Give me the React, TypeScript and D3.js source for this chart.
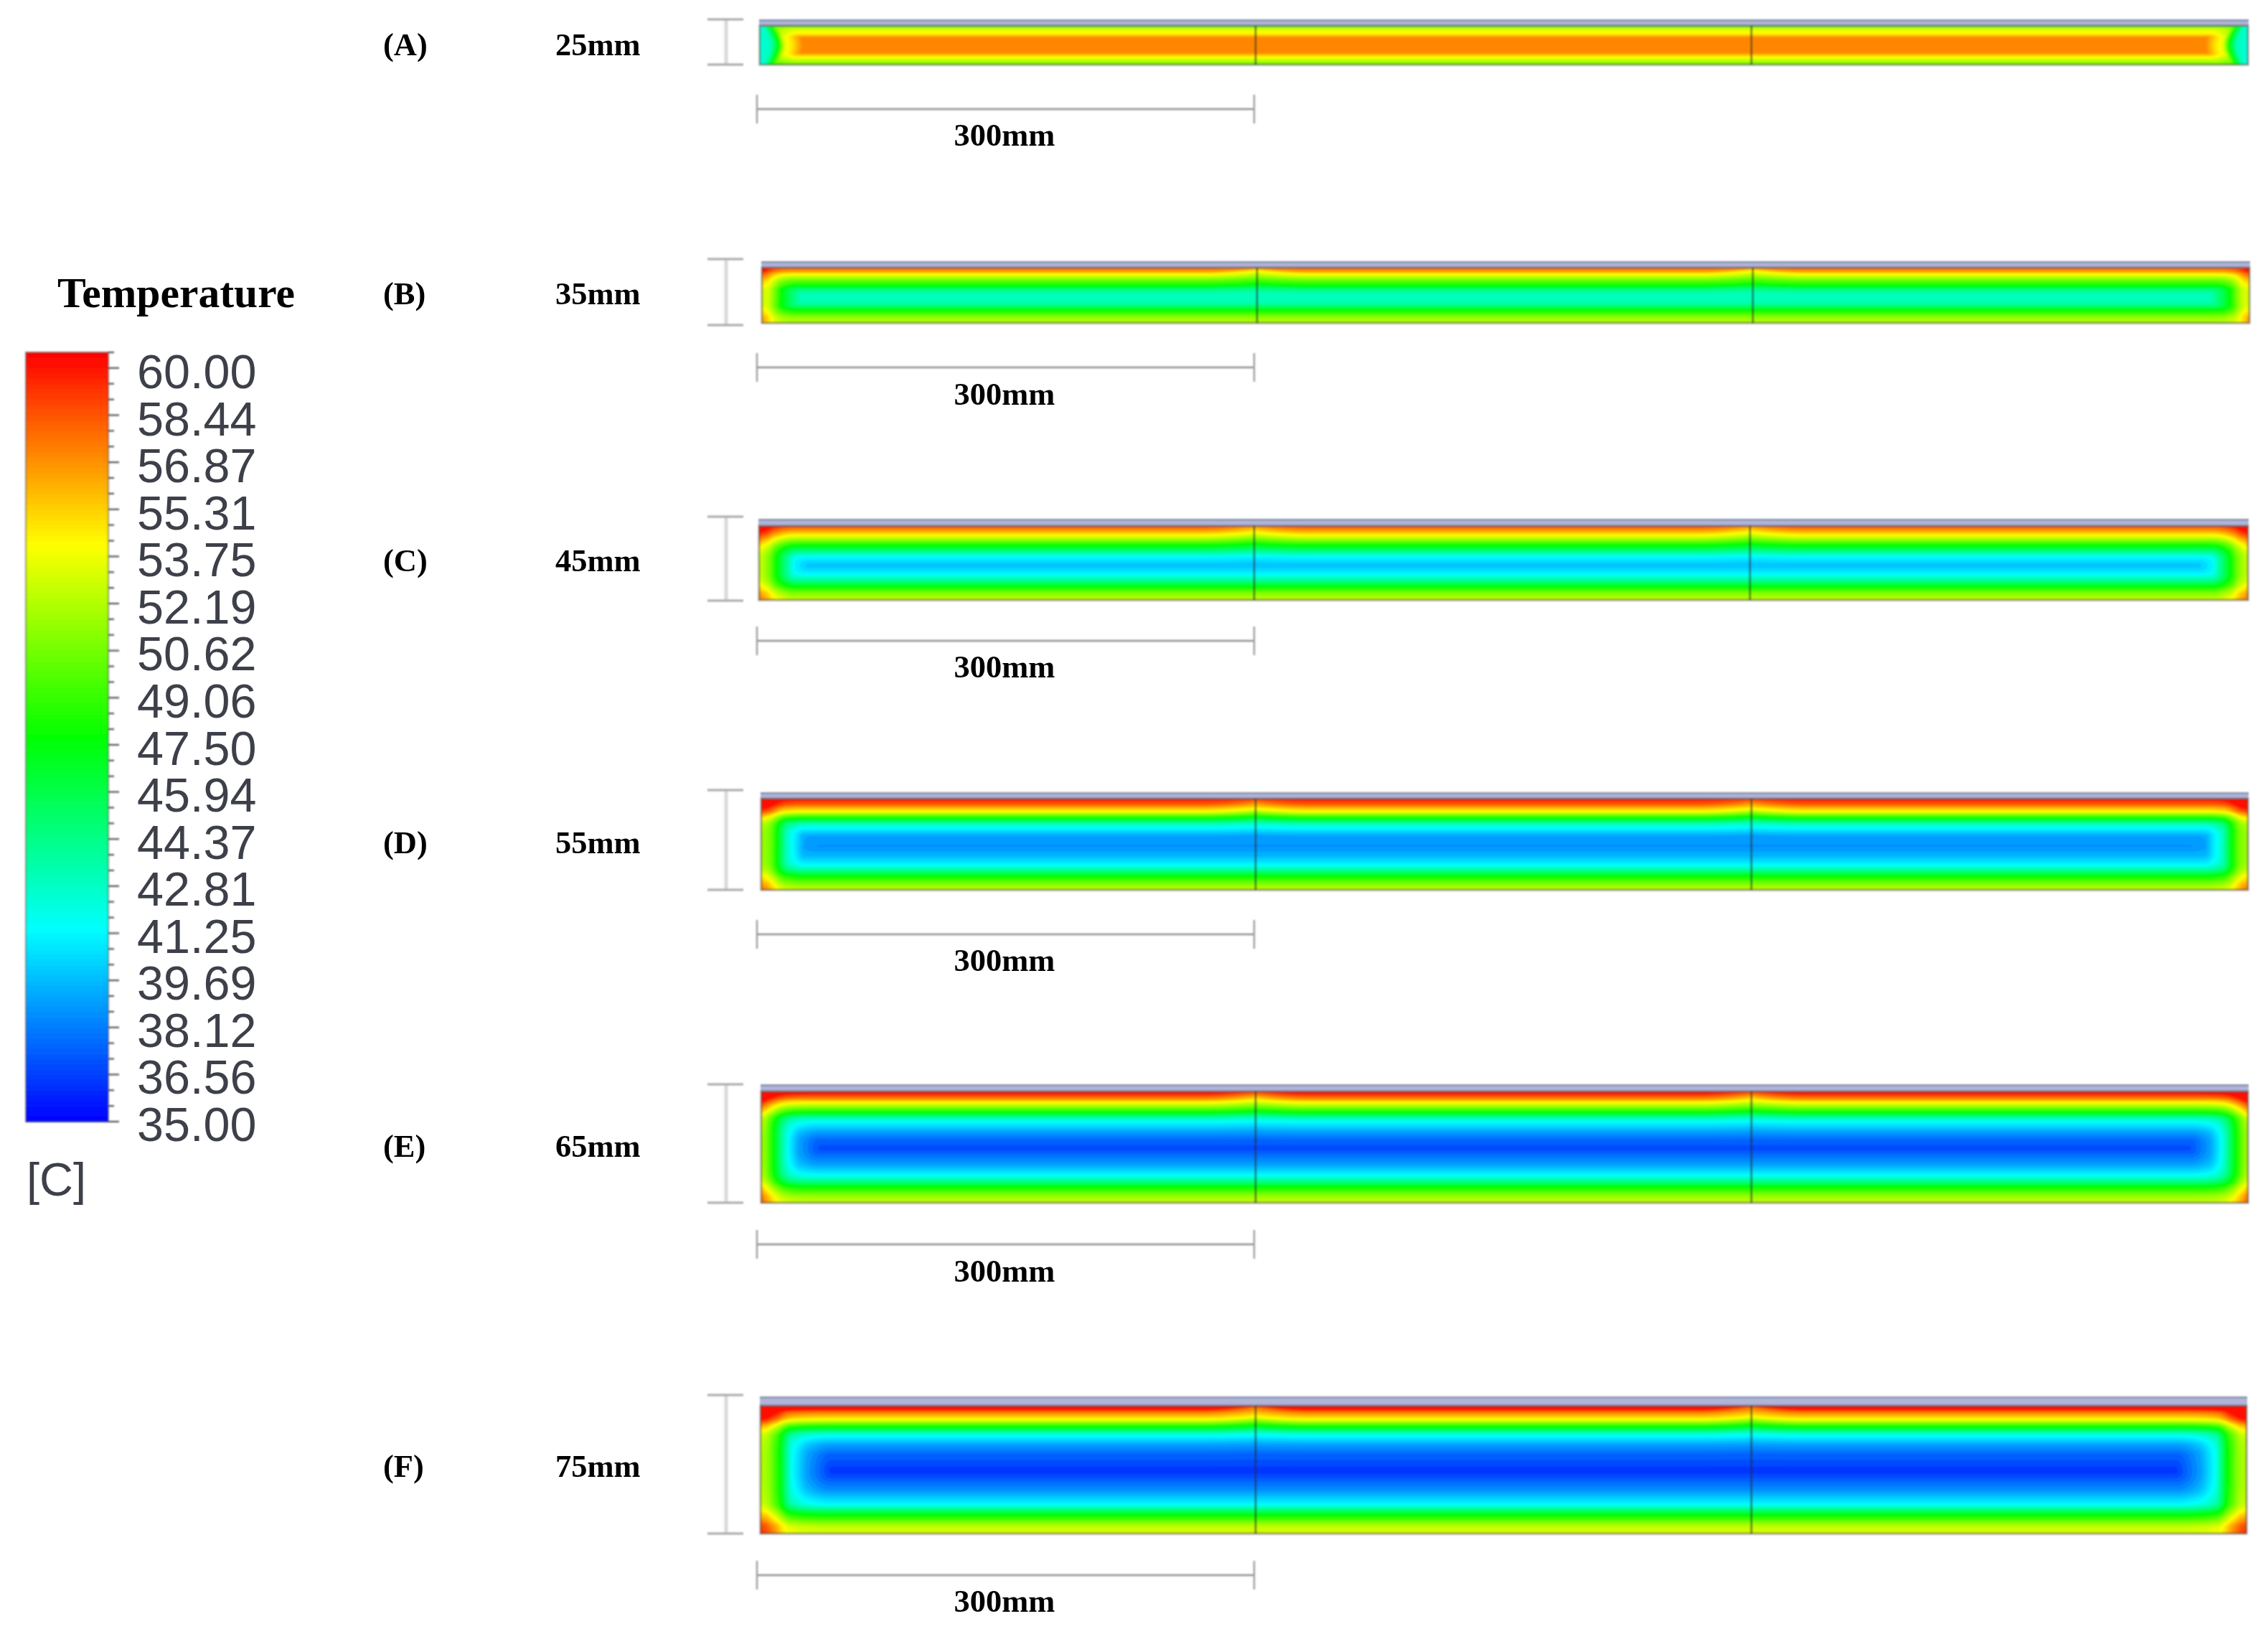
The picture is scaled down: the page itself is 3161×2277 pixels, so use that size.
import React, { useMemo } from "react";
import * as d3 from "d3";

// Colour map and legend values
const rainbowTemps = [35, 41.25, 47.5, 53.75, 60];
const rainbowColors = ["#0000ff", "#00ffff", "#00ff00", "#ffff00", "#ff0000"];
const legendLabels = ["60.00", "58.44", "56.87", "55.31", "53.75", "52.19", "50.62", "49.06", "47.50", "45.94", "44.37", "42.81", "41.25", "39.69", "38.12", "36.56", "35.00"];
const legendBandCount = 49;

const panelNames = ["(A)", "(B)", "(C)", "(D)", "(E)", "(F)"];
const thicknessNames = ["25mm", "35mm", "45mm", "55mm", "65mm", "75mm"];

// Temperature read across each panel: [depth from the wall in px, temperature]
const topA = [[0, 50], [5, 53], [11, 54], [14, 55.5], [16, 56.6]];
const bottomA = [[0, 50], [4, 51.5], [11, 54], [14, 55.5], [16, 56.6]];
const sideA = [[0, 42], [16, 43], [26, 47.5], [34, 53], [46, 54.5], [59, 56.6]];
const coreA = 56.6;

const topB = [[0, 57.2], [5, 56.4], [9, 53.7], [19, 49.5], [25, 47.5], [30, 44.6], [34, 43.6], [38, 43]];
const bottomB = [[0, 52], [8, 51], [18, 47.5], [24, 44.5], [30, 43]];
const sideB = [[0, 53], [10, 52.5], [19, 50], [27, 47.5], [40, 45], [55, 43]];
const coreB = 43;

const topC = [[0, 58], [6, 56.3], [11, 54.5], [17, 52], [27, 47.5], [36, 44], [44, 41], [54, 39.8]];
const bottomC = [[0, 52.5], [10, 50.5], [18, 47.5], [27, 44], [37, 41], [47, 39.8]];
const sideC = [[0, 52.5], [6, 51.8], [16, 50], [24, 47.5], [38, 44], [50, 41], [70, 39.8]];
const coreC = 39.8;

const topD = [[0, 59.5], [7, 58], [12, 56], [18, 53.5], [27, 47.5], [35, 43], [42, 41], [52, 39], [67, 38.5]];
const bottomD = [[0, 52.5], [9, 50.5], [19, 47.5], [27, 44], [36, 41], [47, 39.5], [61, 38.5]];
const sideD = [[0, 51.5], [6, 51], [14, 50], [22, 47.5], [36, 42.5], [46, 41], [59, 39], [80, 38.5]];
const coreD = 38.5;

const topE = [[0, 60], [4, 59], [9, 57], [16, 53.5], [29, 47.5], [37, 43], [44, 41], [56, 39], [69, 37.3], [81, 36.8]];
const bottomE = [[0, 52.5], [10, 51], [22, 47.5], [30, 44], [40, 41], [53, 39], [75, 36.8]];
const sideE = [[0, 51.5], [7, 50.5], [17, 47.5], [31, 43], [39, 41], [52, 39], [82, 36.8]];
const coreE = 36.8;

const topF = [[0, 60], [4, 60], [9, 57], [19, 53.7], [29, 47.5], [41, 41.5], [54, 39], [67, 37.5], [91, 36.2]];
const bottomF = [[0, 53], [11, 52], [27, 47], [41, 41.2], [61, 38.5], [87, 36.2]];
const sideF = [[0, 52], [12, 51], [27, 47.5], [43, 41.5], [63, 39], [100, 36.2]];
const coreF = 36.2;

const field = (name: string, top: number[][], bottom: number[][], side: number[][], core: number, sign: number, ribLift: number, bulge: number) =>
  ({ name, top, bottom, side, core, sign, ribLift, bulge });
const fields = [
  field("A", topA, bottomA, sideA, coreA, -1, 0, 14),
  field("B", topB, bottomB, sideB, coreB, 1, 5, 9),
  field("C", topC, bottomC, sideC, coreC, 1, 6, 6),
  field("D", topD, bottomD, sideD, coreD, 1, 6, 6),
  field("E", topE, bottomE, sideE, coreE, 1, 6, 6),
  field("F", topF, bottomF, sideF, coreF, 1, 7, 6),
];

// Layout in page pixels
const layouts = [
  { x0: 1059, x1: 3133, strip: 27, top: 36, bottom: 90, ribs: [1750, 2441], label: 77, scaleY: 152, scaleText: 203, capTop: 27, capBottom: 90 },
  { x0: 1062, x1: 3135, strip: 364, top: 373, bottom: 450, ribs: [1752, 2443], label: 424, scaleY: 512, scaleText: 564, capTop: 361, capBottom: 453 },
  { x0: 1058, x1: 3133, strip: 723, top: 733, bottom: 836, ribs: [1748, 2439], label: 796, scaleY: 893, scaleText: 944, capTop: 720, capBottom: 837 },
  { x0: 1061, x1: 3133, strip: 1104, top: 1113, bottom: 1240, ribs: [1750, 2441], label: 1189, scaleY: 1302, scaleText: 1353, capTop: 1101, capBottom: 1240 },
  { x0: 1061, x1: 3133, strip: 1511, top: 1521, bottom: 1676, ribs: [1750, 2441], label: 1612, scaleY: 1734, scaleText: 1786, capTop: 1511, capBottom: 1676 },
  { x0: 1060, x1: 3131, strip: 1946, top: 1959, bottom: 2137, ribs: [1750, 2441], label: 2058, scaleY: 2195, scaleText: 2246, capTop: 1944, capBottom: 2137 },
];

const colorOf = d3.scaleLinear<string>().domain(rainbowTemps).range(rainbowColors).interpolate(d3.interpolateRgb).clamp(true);
const levelStep = 25 / legendBandCount;
const levels = d3.range(1, legendBandCount).map((i) => 35 + i * levelStep);
const profile = (pairs: number[][]) =>
  d3.scaleLinear().domain(pairs.map((p) => p[0])).range(pairs.map((p) => p[1])).clamp(true);

const STEP_X = 3;
const STEP_Y = 1.5;
const PAD = 2;
const ROUND = 2;

function Field({ f, l, idx }: { f: (typeof fields)[number]; l: (typeof layouts)[number]; idx: number }) {
  const w = l.x1 - l.x0;
  const h = l.bottom - l.top;
  const paths = useMemo(() => {
    const nx = Math.ceil(w / STEP_X) + 2 * PAD;
    const ny = Math.ceil(h / STEP_Y) + 2 * PAD;
    const topP = profile(f.top), botP = profile(f.bottom), sideP = profile(f.side);
    const values = new Float64Array(nx * ny);
    for (let j = 0; j < ny; j++) {
      const y = (j - PAD) * STEP_Y;
      const mid = (y - h / 2) / (h / 2);
      for (let i = 0; i < nx; i++) {
        const x = (i - PAD) * STEP_X;
        const px = l.x0 + x;
        const ribDx = Math.min(...l.ribs.map((r) => Math.abs(px - r)));
        const dTop0 = Math.max(0, y);
        const lift = f.ribLift * Math.pow(Math.max(0, 1 - ribDx / 70), 1.5) * Math.exp(-dTop0 / 25);
        const dTop = dTop0 + lift;
        const dBot = Math.max(0, h - y);
        const dSide = Math.max(0, Math.min(x, w - x)) + f.bulge * mid * mid;
        const e = [topP(dTop), botP(dBot), sideP(dSide)].map((t) => Math.max(0, f.sign * (t - f.core)));
        const E = Math.pow(d3.sum(e, (v) => Math.pow(v, ROUND)), 1 / ROUND);
        values[i + j * nx] = f.core + f.sign * E;
      }
    }
    const gen = d3.contours().size([nx, ny]).smooth(true).thresholds(levels);
    const proj = d3.geoTransform({
      point(this: any, x: number, y: number) {
        this.stream.point((x - PAD - 0.5) * STEP_X, (y - PAD - 0.5) * STEP_Y);
      },
    });
    const path = d3.geoPath(proj);
    return gen(values as unknown as number[]).map((c) => ({ d: path(c as any) || "", t: c.value }));
  }, [f, l, w, h]);
  const id = `clip-${idx}`;
  return (
    <g filter="url(#soft)">
      <clipPath id={id}><rect x={0} y={0} width={w} height={h} /></clipPath>
      <rect x={l.x0 - 1} y={l.strip} width={w + 2} height={l.top - l.strip} fill="#b0b4d8" />
      <rect x={l.x0 - 1} y={l.strip} width={w + 2} height={2.5} fill="#8893ad" />
      <g transform={`translate(${l.x0},${l.top})`}>
        <g clipPath={`url(#${id})`}>
          <rect x={0} y={0} width={w} height={h} fill={colorOf(35)} />
          {paths.map((p) => (
            <path key={p.t} d={p.d} fill={colorOf(p.t + levelStep / 2)} />
          ))}
        </g>
        <rect x={0} y={0} width={w} height={h} fill="none" stroke="#4a4a3c" strokeOpacity={0.55} strokeWidth={3} />
        {l.ribs.map((r) => (
          <line key={r} x1={r - l.x0} x2={r - l.x0} y1={0} y2={h} stroke="#22302c" strokeOpacity={0.55} strokeWidth={3} />
        ))}
      </g>
    </g>
  );
}

const serif = "'Liberation Serif', serif";
const sans = "'Liberation Sans', sans-serif";
const LEG = { x: 36, w: 115, top: 491, bottom: 1563 };

export default function App() {
  const legendY = d3.scaleLinear().domain([35, 60]).range([LEG.bottom, LEG.top]);
  const labelY = d3.scalePoint<string>().domain(legendLabels).range([541, 1590]);
  const fineStep = levelStep / 3;
  const bands = d3.range(legendBandCount * 3).map((i) => 35 + i * fineStep);
  const ticks = d3.range(0, legendBandCount + 1);
  return (
    <svg width={3161} height={2277} viewBox="0 0 3161 2277" style={{ position: "absolute", left: 0, top: 0, display: "block", background: "#fff" }}>
      <defs>
        <filter id="soft" x="-2%" y="-20%" width="104%" height="140%"><feGaussianBlur stdDeviation={1.1} /></filter>
        <filter id="softText" x="-5%" y="-5%" width="110%" height="110%"><feGaussianBlur stdDeviation={0.7} /></filter>
      </defs>
      <g filter="url(#soft)">
        {bands.map((t) => (
          <rect key={t} x={LEG.x} width={LEG.w} y={legendY(t + fineStep)} height={legendY(t) - legendY(t + fineStep) + 0.6} fill={colorOf(t + fineStep / 2)} />
        ))}
        <rect x={LEG.x} y={LEG.top} width={LEG.w} height={LEG.bottom - LEG.top} fill="none" stroke="#444" strokeOpacity={0.45} strokeWidth={2.5} />
        {ticks.map((i) => {
          const y = legendY(35 + i * levelStep);
          return <line key={i} x1={LEG.x + LEG.w} x2={LEG.x + LEG.w + (i % 3 === 0 ? 15 : 8)} y1={y} y2={y} stroke="#555" strokeWidth={2.2} />;
        })}
      </g>
      <g filter="url(#softText)">
        <text x={80} y={428} fontFamily={serif} fontWeight="bold" fontSize={59.6} fill="#000">Temperature</text>
        {legendLabels.map((s) => (
          <text key={s} x={191} y={labelY(s)} fontFamily={sans} fontSize={66.5} fill="#3c4049">{s}</text>
        ))}
        <text x={37} y={1666} fontFamily={sans} fontSize={65} fill="#3c4049">[C]</text>
        {panelNames.map((n, i) => (
          <text key={n} x={534} y={layouts[i].label} fontFamily={serif} fontWeight="bold" fontSize={44.5} fill="#000">{n}</text>
        ))}
        {thicknessNames.map((n, i) => (
          <text key={n} x={774} y={layouts[i].label} fontFamily={serif} fontWeight="bold" fontSize={44.5} fill="#000">{n}</text>
        ))}
        {layouts.map((l, i) => (
          <text key={i} x={1400} y={l.scaleText} textAnchor="middle" fontFamily={serif} fontWeight="bold" fontSize={44.5} fill="#000">300mm</text>
        ))}
      </g>
      {fields.map((f, i) => (
        <Field key={f.name} f={f} l={layouts[i]} idx={i} />
      ))}
      <g filter="url(#soft)">
        {layouts.map((l, i) => (
          <g key={i}>
            <line x1={1012} x2={1012} y1={l.capTop} y2={l.capBottom} stroke="#d9d9d9" strokeWidth={5} />
            <line x1={986} x2={1036} y1={l.capTop} y2={l.capTop} stroke="#a8a8a8" strokeWidth={3} />
            <line x1={986} x2={1036} y1={l.capBottom} y2={l.capBottom} stroke="#a8a8a8" strokeWidth={3} />
            <line x1={1055} x2={1748} y1={l.scaleY} y2={l.scaleY} stroke="#8f8f8f" strokeWidth={2.5} />
            <line x1={1055} x2={1055} y1={l.scaleY - 20} y2={l.scaleY + 20} stroke="#a0a0a0" strokeWidth={2.5} />
            <line x1={1748} x2={1748} y1={l.scaleY - 20} y2={l.scaleY + 20} stroke="#a0a0a0" strokeWidth={2.5} />
          </g>
        ))}
      </g>
    </svg>
  );
}
